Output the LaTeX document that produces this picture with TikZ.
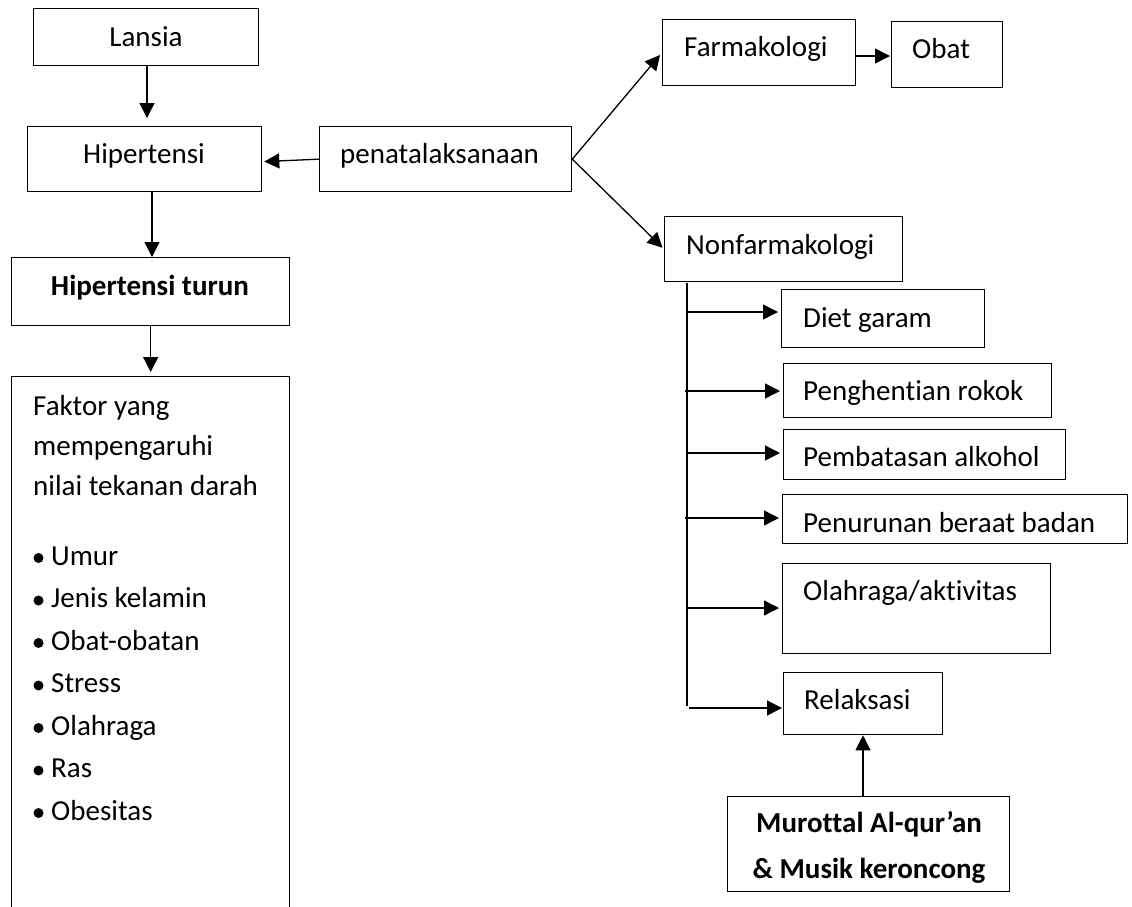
\documentclass[tikz,border=0pt]{standalone}
\usepackage{fontspec}
\setmainfont{Carlito}[RawFeature={-liga}]
\usetikzlibrary{arrows.meta}
\begin{document}
\begin{tikzpicture}[x=1pt,y=-1pt,
  every node/.style={font=\fontsize{29}{34}\selectfont},
  box/.style={draw, line width=1.3pt, inner sep=0pt, anchor=north west},
  txt/.style={inner sep=0pt, anchor=base west},
  ctxt/.style={inner sep=0pt, anchor=base},
  arr/.style={line width=1.3pt, -{Triangle[length=15pt,width=15pt]}},
  conn/.style={line width=1.3pt}]
\useasboundingbox (0,0) rectangle (1132,906);
\clip (0,0) rectangle (1132,906);
\fill[white] (0,0) rectangle (1132,906);

% left column boxes
\node[box, minimum width=225pt, minimum height=57pt] (lansia) at (33,8) {};
\node[box, minimum width=234pt, minimum height=65pt] (hip) at (27,126) {};
\node[box, minimum width=252pt, minimum height=65pt] (pena) at (319,126) {};
\node[box, minimum width=278pt, minimum height=68pt] (turun) at (11,257) {};
\node[box, minimum width=278pt, minimum height=554pt] (fk) at (11,376) {};

\node[ctxt] (tlansia) at (146,46) {Lansia};
\node[ctxt] (thip) at (144,163) {Hipertensi};
\node[txt] (tpena) at (340,163) {penatalaksanaan};
\node[ctxt] (tturun) at (150,295) {\bfseries Hipertensi turun};

\node[txt] (f1) at (33,415) {Faktor yang};
\node[txt] (f2) at (33,455) {mempengaruhi};
\node[txt] (f3) at (33,495) {nilai tekanan darah};
\foreach \y/\t [count=\i] in {558/Umur,600.5/Jenis kelamin,643/Obat-obatan,685.5/Stress,728/Olahraga,770.5/Ras,813/Obesitas}{
  \fill (38.5,\y) circle (5pt);
  \node[txt] (b\i) at (51,\y+7) {\t};
}

% right side boxes
\node[box, minimum width=193pt, minimum height=66pt] (farm) at (662,19) {};
\node[box, minimum width=111pt, minimum height=66pt] (obat) at (891,21) {};
\node[box, minimum width=238pt, minimum height=65pt] (nonf) at (664,216) {};
\node[box, minimum width=203pt, minimum height=58pt] (diet) at (781,289) {};
\node[box, minimum width=268pt, minimum height=54pt] (rokok) at (783,363) {};
\node[box, minimum width=282pt, minimum height=50pt] (alko) at (783,429) {};
\node[box, minimum width=345pt, minimum height=49pt] (bb) at (782,494) {};
\node[box, minimum width=268pt, minimum height=90pt] (olah) at (782,563) {};
\node[box, minimum width=159pt, minimum height=62pt] (rel) at (783,672) {};
\node[box, minimum width=282pt, minimum height=95pt] (mur) at (727,796) {};

\node[txt] (tfarm) at (684,56) {Farmakologi};
\node[txt] (tobat) at (912,58) {Obat};
\node[txt] (tnonf) at (686,254) {Nonfarmakologi};
\node[txt] (tdiet) at (803,327) {Diet garam};
\node[txt] (trokok) at (803,400) {Penghentian rokok};
\node[txt] (talko) at (803,466) {Pembatasan alkohol};
\node[txt] (tbb) at (803,532) {Penurunan beraat badan};
\node[txt] (tolah) at (803,600) {Olahraga/aktivitas};
\node[txt] (trel) at (804,709) {Relaksasi};
\node[ctxt] (tmur1) at (869,832) {\bfseries Murottal Al-qur’an};
\node[ctxt] (tmur2) at (869,878) {\bfseries \& Musik keroncong};

% helper coordinates
\coordinate (x147) at (147,0);
\coordinate (x152) at (152,0);
\coordinate (x863) at (863,0);
\coordinate (fo) at (855,56);
\coordinate (trtop) at (687,283);
\coordinate (trbot) at (687,706);
\coordinate (a1) at (687,312);
\coordinate (a2) at (685,391);
\coordinate (a3) at (687,453);
\coordinate (a4) at (685,518);
\coordinate (a5) at (687,608);
\coordinate (a6) at (689,708);

% connectors
\draw[arr, shorten >=8pt] (lansia.south -| x147) -- (hip.north -| x147);
\draw[arr, shorten >=2pt] (pena.west) -- ([yshift=-2.5pt]hip.east);
\draw[arr] (hip.south -| x152) -- (turun.north -| x152);
\draw[arr, shorten >=4pt] (turun.south) -- (fk.north);
\draw[arr, shorten >=3pt] (pena.east) -- (farm.west);
\draw[arr, shorten >=2pt] (pena.east) -- (nonf.west);
\draw[arr, shorten >=1pt] (farm.east |- fo) -- (obat.west |- fo);
\draw[conn] (trtop) -- (trbot);
\draw[arr, shorten >=3pt] (a1) -- (diet.west |- a1);
\draw[arr, shorten >=3pt] (a2) -- (rokok.west |- a2);
\draw[arr, shorten >=3pt] (a3) -- (alko.west |- a3);
\draw[arr, shorten >=3pt] (a4) -- (bb.west |- a4);
\draw[arr, shorten >=3pt] (a5) -- (olah.west |- a5);
\draw[arr, shorten >=1pt] (a6) -- (rel.west |- a6);
\draw[arr] (mur.north -| x863) -- (rel.south -| x863);
\end{tikzpicture}
\end{document}
